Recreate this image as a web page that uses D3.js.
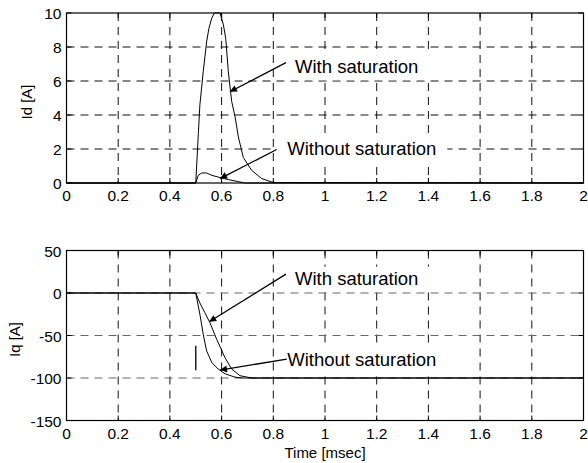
<!DOCTYPE html>
<html lang="en">
<head>
<meta charset="UTF-8">
<title>Id / Iq with and without saturation</title>
<script src="https://d3js.org/d3.v7.min.js"></script>
<style>
    body { margin: 0; background: #fff; }
    svg text { font-family: "Liberation Sans", Arial, sans-serif; fill: #000; }
    .tick-label { font-size: 15.5px; }
    .axis-title { font-size: 15px; }
    .note { font-size: 18.5px; }
</style>
</head>
<body>
<svg width="588" height="463"></svg>
<script>
    // x axis (time, msec)
    const timeTicks = [0, 0.2, 0.4, 0.6, 0.8, 1, 1.2, 1.4, 1.6, 1.8, 2];

    // Id panel
    const idTicks = [0, 2, 4, 6, 8, 10];
    const idWithTime = [0, 0.5, 0.51, 0.516, 0.529, 0.542, 0.551, 0.562, 0.572, 0.583, 0.594, 0.607, 0.616, 0.626, 0.639, 0.652, 0.665, 0.684, 0.716, 0.755, 0.8, 2];
    const idWithValue = [0, 0, 2.9, 4.6, 6.55, 8.3, 9.1, 9.7, 10, 10, 10, 9.3, 8.5, 6.55, 4.8, 3.9, 2.7, 1.5, 0.75, 0.26, 0.03, 0];
    const idWithoutTime = [0, 0.5, 0.51, 0.523, 0.542, 0.562, 0.587, 0.626, 0.665, 0.69, 2];
    const idWithoutValue = [0, 0, 0.45, 0.59, 0.59, 0.45, 0.35, 0.2, 0.08, 0, 0];

    // Iq panel
    const iqTicks = [-150, -100, -50, 0, 50];
    const iqWithTime = [0, 0.5, 0.516, 0.535, 0.555, 0.581, 0.613, 0.639, 0.671, 0.716, 2];
    const iqWithValue = [0, 0, -11.7, -23, -35, -54.5, -76, -89.5, -97.3, -100, -100];
    const iqWithoutTime = [0, 0.5, 0.516, 0.529, 0.542, 0.562, 0.587, 0.613, 0.652, 0.68, 2];
    const iqWithoutValue = [0, 0, -25, -48.6, -68, -81.8, -89.5, -95, -99, -100, -100];
    const iqStepMark = [{ t: 0.5, v: -62 }, { t: 0.5, v: -91 }];

    // annotations: text anchor and arrow tail -> tip, in data units
    const idNotes = [
        { text: "With saturation", tx: 0.884, ty: 6.46, from: [0.849, 7.08], to: [0.632, 5.37], boxEnd: 1.412 },
        { text: "Without saturation", tx: 0.854, ty: 1.64, from: [0.813, 1.97], to: [0.594, 0.26], boxEnd: 1.473 }
    ];
    const iqNotes = [
        { text: "With saturation", tx: 0.884, ty: 9.8, from: [0.849, 22.2], to: [0.552, -33.9], boxEnd: 1.412 },
        { text: "Without saturation", tx: 0.854, ty: -85.6, from: [0.852, -77.8], to: [0.594, -90.7], boxEnd: 1.473 }
    ];

    const svg = d3.select("svg");
    const left = 66.5, plotW = 517, plotH = 170;

    // arrowhead
    svg.append("defs").append("marker")
        .attr("id", "head")
        .attr("viewBox", "0 0 10 10")
        .attr("refX", 10).attr("refY", 5)
        .attr("markerWidth", 9).attr("markerHeight", 7)
        .attr("markerUnits", "userSpaceOnUse")
        .attr("orient", "auto")
        .append("path").attr("d", "M0,0 L10,5 L0,10 Z").attr("fill", "#000");

    function drawPanel(top, yDomain, yTicks, series, notes, yLabel, yLabelX, hGridColor, step) {
        const g = svg.append("g").attr("transform", `translate(${left},${top})`);
        const x = d3.scaleLinear().domain([0, 2]).range([0, plotW]);
        const y = d3.scaleLinear().domain(yDomain).range([plotH, 0]);

        // grid
        g.selectAll(".vgrid").data(timeTicks.slice(1, -1)).join("line")
            .attr("x1", d => x(d)).attr("x2", d => x(d))
            .attr("y1", 0).attr("y2", plotH)
            .attr("stroke", "#111").attr("stroke-width", 1)
            .attr("stroke-dasharray", "8,6");
        g.selectAll(".hgrid").data(yTicks.slice(1, -1)).join("line")
            .attr("x1", 0).attr("x2", plotW)
            .attr("y1", d => y(d)).attr("y2", d => y(d))
            .attr("stroke", hGridColor).attr("stroke-width", 1)
            .attr("stroke-dasharray", "8,6");

        // data lines
        const line = d3.line().x(d => x(d[0])).y(d => y(d[1]));
        series.forEach(s => {
            g.append("path")
                .datum(d3.zip(s.t, s.v))
                .attr("fill", "none")
                .attr("stroke", "#000")
                .attr("stroke-width", 1)
                .attr("d", line);
        });
        if (step) {
            g.append("line")
                .attr("x1", x(step[0].t)).attr("x2", x(step[1].t))
                .attr("y1", y(step[0].v)).attr("y2", y(step[1].v))
                .attr("stroke", "#222").attr("stroke-width", 1.5);
        }

        // annotations with white box behind the text
        notes.forEach(n => {
            const bx = x(n.tx) - 12;
            g.append("rect")
                .attr("x", bx).attr("y", y(n.ty) - 18)
                .attr("width", x(n.boxEnd) - bx).attr("height", 25)
                .attr("fill", "#fff");
            g.append("text").attr("class", "note")
                .attr("x", x(n.tx)).attr("y", y(n.ty))
                .text(n.text);
            g.append("line")
                .attr("x1", x(n.from[0])).attr("y1", y(n.from[1]))
                .attr("x2", x(n.to[0])).attr("y2", y(n.to[1]))
                .attr("stroke", "#000").attr("stroke-width", 1.3)
                .attr("marker-end", "url(#head)");
        });

        // box and inward ticks
        g.append("rect").attr("width", plotW).attr("height", plotH)
            .attr("fill", "none").attr("stroke", "#000").attr("stroke-width", 1.2);
        const tl = 5;
        timeTicks.forEach(t => {
            g.append("line").attr("x1", x(t)).attr("x2", x(t)).attr("y1", plotH).attr("y2", plotH - tl).attr("stroke", "#000");
            g.append("line").attr("x1", x(t)).attr("x2", x(t)).attr("y1", 0).attr("y2", tl).attr("stroke", "#000");
        });
        yTicks.forEach(v => {
            g.append("line").attr("x1", 0).attr("x2", tl).attr("y1", y(v)).attr("y2", y(v)).attr("stroke", "#000");
            g.append("line").attr("x1", plotW).attr("x2", plotW - tl).attr("y1", y(v)).attr("y2", y(v)).attr("stroke", "#000");
        });

        // tick labels
        g.selectAll(".xl").data(timeTicks).join("text")
            .attr("class", "tick-label")
            .attr("x", d => x(d)).attr("y", plotH + 18)
            .attr("text-anchor", "middle")
            .text(d => d);
        g.selectAll(".yl").data(yTicks).join("text")
            .attr("class", "tick-label")
            .attr("x", -5).attr("y", d => y(d) + 6)
            .attr("text-anchor", "end")
            .text(d => d);

        g.append("text").attr("class", "axis-title")
            .attr("transform", `translate(${yLabelX - left},${plotH / 2 + 4}) rotate(-90)`)
            .attr("text-anchor", "middle")
            .text(yLabel);
        return g;
    }

    drawPanel(13, [0, 10], idTicks,
        [{ t: idWithTime, v: idWithValue }, { t: idWithoutTime, v: idWithoutValue }],
        idNotes, "Id [A]", 32, "#111", null);

    const bottom = drawPanel(250.5, [-150, 50], iqTicks,
        [{ t: iqWithTime, v: iqWithValue }, { t: iqWithoutTime, v: iqWithoutValue }],
        iqNotes, "Iq [A]", 20, "#666", iqStepMark);

    bottom.append("text").attr("class", "axis-title")
        .attr("x", plotW / 2).attr("y", plotH + 37)
        .attr("text-anchor", "middle")
        .text("Time [msec]");
</script>
</body>
</html>
